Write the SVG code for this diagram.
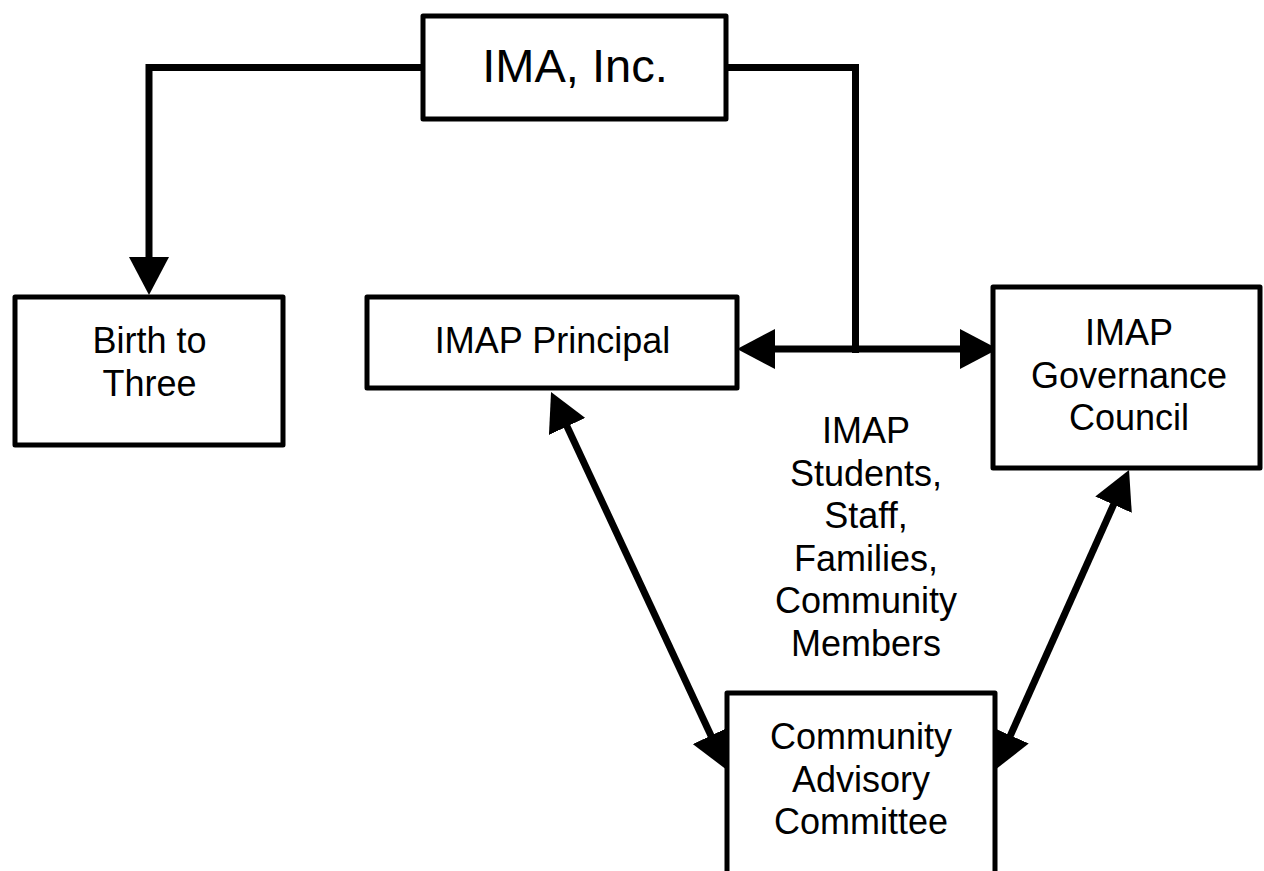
<svg xmlns="http://www.w3.org/2000/svg" width="1264" height="871" viewBox="0 0 1264 871">
<style>
.box{fill:#fff;stroke:#000;stroke-width:5;stroke-linejoin:round}
.lbl{font-family:"Liberation Sans",Arial,sans-serif;font-size:36px;fill:#000;text-anchor:middle}
.big{font-size:47px}
.con{fill:none;stroke:#000;stroke-width:7;stroke-linejoin:miter}
</style>
<defs>
<marker id="ah" viewBox="0 0 38 40" refX="8" refY="20" markerWidth="38" markerHeight="40" markerUnits="userSpaceOnUse" orient="auto-start-reverse">
<path d="M0,0 L38,20 L0,40 Z" fill="#000"/>
</marker>
</defs>
<rect width="1264" height="871" fill="#fff"/>
<g id="connectors">
<path class="con" d="M423,67.5 H149 V265" marker-end="url(#ah)"/>
<path class="con" d="M726,67.5 H855.5 V353"/>
<path class="con" d="M767,349 H968" marker-start="url(#ah)" marker-end="url(#ah)"/>
<path class="con" d="M563.7,419.2 L714.3,742.8" marker-start="url(#ah)" marker-end="url(#ah)"/>
<path class="con" d="M1116.8,497.4 L1007.2,742.6" marker-start="url(#ah)" marker-end="url(#ah)"/>
</g>
<g id="ima">
<rect class="box" x="423" y="16" width="303" height="103"/>
<text class="lbl big" x="575" y="82">IMA, Inc.</text>
</g>
<g id="birth">
<rect class="box" x="15" y="297" width="268" height="148"/>
<text class="lbl" x="149.5" y="353.3">Birth to</text>
<text class="lbl" x="149.5" y="395.5">Three</text>
</g>
<g id="principal">
<rect class="box" x="367" y="297" width="370" height="91"/>
<text class="lbl" x="552.5" y="352.7">IMAP Principal</text>
</g>
<g id="governance">
<rect class="box" x="993" y="287" width="267" height="181"/>
<text class="lbl" x="1129" y="345">IMAP</text>
<text class="lbl" x="1129" y="387.5">Governance</text>
<text class="lbl" x="1129" y="430">Council</text>
</g>
<g id="members">
<text class="lbl" x="866" y="443">IMAP</text>
<text class="lbl" x="866" y="485.5">Students,</text>
<text class="lbl" x="866" y="528">Staff,</text>
<text class="lbl" x="866" y="570.5">Families,</text>
<text class="lbl" x="866" y="613">Community</text>
<text class="lbl" x="866" y="655.5">Members</text>
</g>
<g id="community">
<rect class="box" x="727" y="693" width="268" height="200"/>
<text class="lbl" x="861" y="749">Community</text>
<text class="lbl" x="861" y="791.5">Advisory</text>
<text class="lbl" x="861" y="834">Committee</text>
</g>
</svg>
